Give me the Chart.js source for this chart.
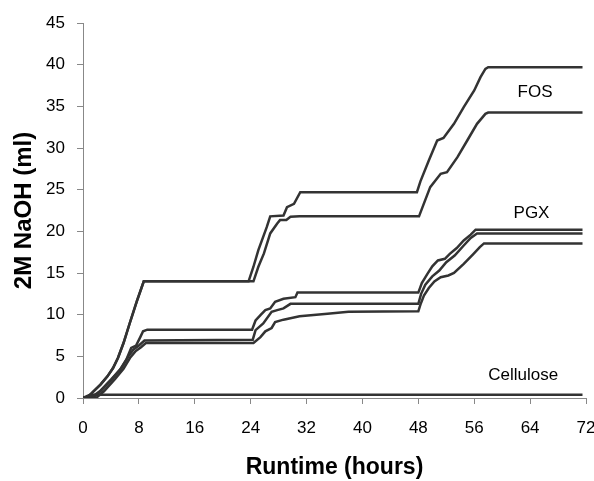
<!DOCTYPE html>
<html>
<head>
<meta charset="utf-8">
<script src="https://cdn.jsdelivr.net/npm/chart.js@4.4.1/dist/chart.umd.min.js"></script>
<style>
  html, body { margin: 0; padding: 0; background: #fff; }
  #wrap { width: 594px; height: 481px; }
</style>
</head>
<body>
<div id="wrap"><canvas id="chart"></canvas></div>
<script>
// x = runtime (hours), y = 2M NaOH (ml)
const fosA = [[0,0],[0.8,0.2],[1.5,0.8],[2.5,1.6],[3.5,2.6],[4.3,3.6],[5.0,4.8],[5.8,6.6],[6.7,9.0],[7.7,11.6],[8.7,14.0],
  [23.7,14.0],[24.4,15.75],[25.1,17.75],[26.3,20.5],[26.8,21.8],[28.7,21.9],[29.2,22.9],[30.2,23.3],[31.1,24.7],
  [47.8,24.7],[48.3,26.0],[49.5,28.5],[50.7,30.9],[51.6,31.2],[53.1,32.9],[54.5,34.9],[56.0,36.9],[56.9,38.5],[57.6,39.5],[58.0,39.7],[71.5,39.7]];
const fosB = [[0,0],[0.8,0.2],[1.5,0.8],[2.5,1.6],[3.5,2.6],[4.3,3.6],[5.0,4.8],[5.8,6.6],[6.7,9.0],[7.7,11.6],[8.7,14.0],
  [24.4,14.0],[25.1,15.75],[25.9,17.35],[26.8,19.75],[27.8,20.95],[28.2,21.35],[29.1,21.35],[29.7,21.75],[31.0,21.8],
  [48.1,21.8],[48.6,22.9],[49.7,25.3],[51.2,26.9],[52.1,27.1],[53.6,28.9],[55.0,30.9],[56.4,32.9],[57.6,34.1],[58.0,34.25],[71.5,34.25]];
const pgxA = [[0,0],[1.2,0.1],[2.4,0.8],[4.0,2.2],[5.3,3.4],[6.2,4.6],[6.9,6.0],[7.6,6.3],[8.2,7.3],[8.6,8.0],[9.2,8.2],
  [24.2,8.2],[24.7,9.3],[25.4,9.95],[26.1,10.55],[26.8,10.75],[27.5,11.55],[28.7,11.9],[30.4,12.1],[30.7,12.65],
  [48.0,12.65],[48.5,13.8],[49.3,14.9],[50.0,15.8],[50.8,16.5],[51.8,16.7],[52.5,17.3],[53.5,18.0],[54.5,18.9],[55.5,19.6],[56.2,20.2],[71.5,20.2]];
const pgxB = [[0,0],[1.5,0.1],[2.6,0.9],[4.2,2.3],[5.5,3.6],[6.5,5.0],[7.2,5.8],[8.0,6.3],[8.8,6.9],
  [24.3,7.0],[24.7,8.15],[25.8,8.95],[27.0,10.35],[27.8,10.55],[28.7,10.75],[29.7,11.3],
  [48.0,11.3],[48.4,12.5],[49.0,13.6],[50.0,14.6],[51.0,15.3],[52.0,16.3],[53.2,17.1],[54.5,18.3],[55.5,19.2],[56.4,19.75],[71.5,19.75]];
const pgxC = [[0,0],[2.0,0.1],[3.0,0.8],[4.6,2.3],[5.8,3.5],[6.8,4.9],[7.5,5.6],[8.3,6.1],[9.0,6.6],
  [24.4,6.6],[25.4,7.3],[26.1,8.0],[27.0,8.4],[27.5,9.1],[28.7,9.4],[31.0,9.8],[35.0,10.1],[38.0,10.35],
  [48.0,10.4],[48.3,11.2],[48.8,12.3],[49.5,13.2],[50.3,14.0],[51.2,14.5],[52.3,14.7],[53.1,15.0],[54.5,16.1],[55.9,17.3],[56.8,18.1],[57.4,18.55],[71.5,18.55]];
const cellulose = [[0,0],[1.0,0.4],[71.5,0.4]];

const xTicks = [0, 8, 16, 24, 32, 40, 48, 56, 64, 72];
const yTicks = [0, 5, 10, 15, 20, 25, 30, 35, 40, 45];
const labels = [
  { text: 'FOS', x: 64.7, y: 36.7 },
  { text: 'PGX', x: 64.2, y: 22.2 },
  { text: 'Cellulose', x: 63.0, y: 2.75 }
];

const lineColor = '#333333';
const series = [fosA, fosB, pgxA, pgxB, pgxC, cellulose];
const fontFamily = '"Liberation Sans", Arial, sans-serif';

const labelPlugin = {
  id: 'curveLabels',
  afterDatasetsDraw(chart) {
    const { ctx, scales } = chart;
    ctx.save();
    ctx.font = '17px ' + fontFamily;
    ctx.fillStyle = '#000';
    ctx.textAlign = 'center';
    ctx.textBaseline = 'middle';
    labels.forEach(l => {
      ctx.fillText(l.text, scales.x.getPixelForValue(l.x), scales.y.getPixelForValue(l.y));
    });
    ctx.restore();
  }
};

new Chart(document.getElementById('chart'), {
  type: 'line',
  data: {
    datasets: series.map(s => ({
      data: s.map(p => ({ x: p[0], y: p[1] })),
      borderColor: lineColor,
      borderWidth: 2.5,
      pointRadius: 0,
      tension: 0,
      fill: false
    }))
  },
  options: {
    responsive: true,
    maintainAspectRatio: false,
    animation: false,
    layout: { padding: { left: 0, right: 8, top: 23, bottom: 0 } },
    plugins: { legend: { display: false }, tooltip: { enabled: false } },
    scales: {
      x: {
        type: 'linear',
        min: 0,
        max: 72,
        afterBuildTicks: axis => { axis.ticks = xTicks.map(v => ({ value: v })); },
        afterFit: axis => { axis.height = 83; axis.paddingLeft = 0; axis.paddingRight = 0; },
        border: { display: true, color: '#888', width: 1 },
        grid: { drawOnChartArea: false, drawTicks: true, tickLength: 6, color: '#888' },
        ticks: { color: '#000', padding: 14, maxRotation: 0, font: { family: fontFamily, size: 17 } },
        title: { display: true, text: 'Runtime (hours)', color: '#000', padding: { top: 0, bottom: 2 },
          font: { family: fontFamily, size: 23, weight: 'bold', lineHeight: 1 } }
      },
      y: {
        min: 0,
        max: 45,
        afterBuildTicks: axis => { axis.ticks = yTicks.map(v => ({ value: v })); },
        afterFit: axis => { axis.width = 83; axis.paddingTop = 0; axis.paddingBottom = 0; },
        border: { display: true, color: '#888', width: 1 },
        grid: { drawOnChartArea: false, drawTicks: true, tickLength: 6, color: '#888' },
        ticks: { color: '#000', padding: 12, font: { family: fontFamily, size: 17 } },
        title: { display: true, text: '2M NaOH (ml)', color: '#000', padding: { top: 10, bottom: 0 },
          font: { family: fontFamily, size: 24, weight: 'bold' } }
      }
    }
  },
  plugins: [labelPlugin]
});
</script>
</body>
</html>
